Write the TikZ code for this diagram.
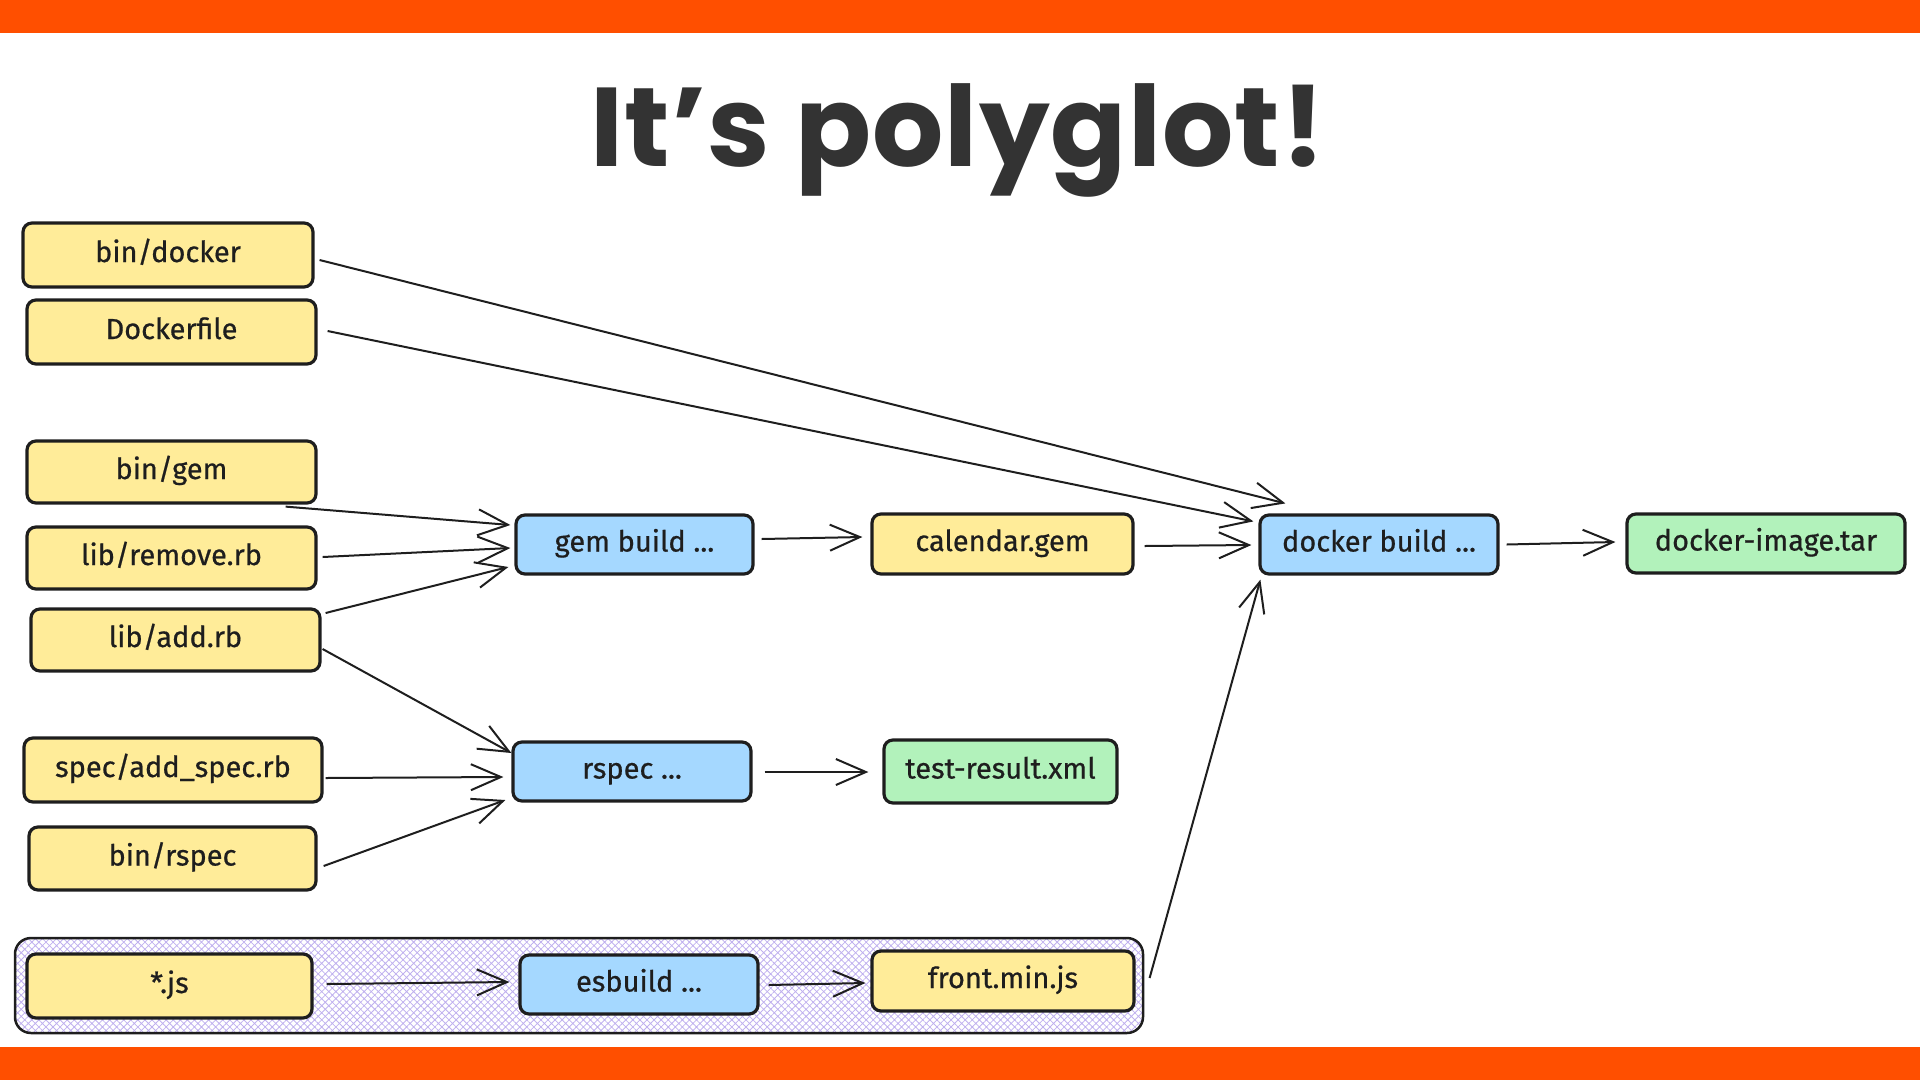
\documentclass[tikz,border=0pt]{standalone}
\usepackage{fontspec}
\setmainfont{Fira Sans}
\newfontfamily\labelfont{Fira Sans}[FakeBold=0.6]
\newfontfamily\titlefont{Poppins}[LetterSpace=1]
\usetikzlibrary{arrows.meta,calc,patterns.meta}
\definecolor{barorange}{HTML}{FF4F00}
\definecolor{ylw}{HTML}{FFEC99}
\definecolor{blu}{HTML}{A5D8FF}
\definecolor{grn}{HTML}{B2F2BB}
\definecolor{hatchc}{HTML}{BFB0EE}
\definecolor{ink}{HTML}{1E1E1E}
\definecolor{titleink}{HTML}{333333}
\tikzset{
  box/.style={draw=ink, line width=3.2pt, rounded corners=9pt, text=ink,
    font=\labelfont\fontsize{29}{32}\selectfont, text height=20pt, text depth=6pt,
    minimum height=62pt, inner sep=0pt},
  ybox/.style={box, fill=ylw},
  bbox/.style={box, fill=blu},
  gbox/.style={box, fill=grn},
  groupbox/.style={draw=ink, line width=2.5pt, rounded corners=16pt,
    pattern={Hatch[angle=45,distance=5pt,line width=0.8pt]}, pattern color=hatchc,
    minimum width=1128pt, minimum height=95pt, inner sep=0pt},
  arr/.style={draw=ink, line width=2pt,
    -{Straight Barb[length=30pt,width=26pt,line width=2pt]}},
  bar/.style={fill=barorange, draw=none, minimum width=1920pt, minimum height=33pt, inner sep=0pt}
}
\begin{document}
\begin{tikzpicture}[x=1pt,y=-1pt]
\useasboundingbox (0,0) rectangle (1920,1080);
\node[bar] (topbar) at (960,16.5) {};
\node[bar] (botbar) at (960,1063.5) {};
\node[anchor=base, text=titleink, inner sep=0pt, font=\titlefont\bfseries\fontsize{112}{120}\selectfont] (title) at (958,166) {It’s polyglot!};

\node[groupbox] (group) at (579,985.5) {};

\node[ybox, minimum width=290pt, minimum height=64pt] (bindocker) at (168,255) {bin/docker};
\node[ybox, minimum width=289pt, minimum height=64pt] (dockerfile) at (171.5,332) {Dockerfile};
\node[ybox, minimum width=289pt] (bingem) at (171.5,472) {bin/gem};
\node[ybox, minimum width=289pt] (libremove) at (171.5,558) {lib/remove.rb};
\node[ybox, minimum width=289pt] (libadd) at (175.5,640) {lib/add.rb};
\node[ybox, minimum width=298pt, minimum height=64pt] (spec) at (173,770) {spec/add\_spec.rb};
\node[ybox, minimum width=287pt, minimum height=63pt] (binrspec) at (172.5,858.5) {bin/rspec};
\node[ybox, minimum width=285pt, minimum height=64pt] (js) at (169.5,986) {*.js};

\node[bbox, minimum width=237pt, minimum height=59pt] (gembuild) at (634.5,544.5) {gem build ...};
\node[ybox, minimum width=261pt, minimum height=60pt] (calendar) at (1002.5,544) {calendar.gem};
\node[bbox, minimum width=238pt, minimum height=59pt] (dockerbuild) at (1379,544.5) {docker build ...};
\node[gbox, minimum width=278pt, minimum height=59pt] (tar) at (1766,543.5) {docker-image.tar};
\node[bbox, minimum width=238pt, minimum height=59pt] (rspec) at (632,771.5) {rspec ...};
\node[gbox, minimum width=233pt, minimum height=63pt] (testresult) at (1000.5,771.5) {test-result.xml};
\node[bbox, minimum width=238pt, minimum height=59pt] (esbuild) at (639,984.5) {esbuild ...};
\node[ybox, minimum width=262pt, minimum height=60pt] (front) at (1003,981) {front.min.js};

\draw[arr] ($(bindocker.east)+(5,5)$) -- ($(dockerbuild.north west)+(27,-10)$);
\draw[arr] ($(dockerfile.east)+(10,-1)$) -- ($(dockerbuild.north west)+(-5,8)$);
\draw[arr] ($(bingem.south east)+(-32,2)$) -- ($(gembuild.west)+(-4,-19.5)$);
\draw[arr] ($(libremove.east)+(5,-1)$) -- ($(gembuild.west)+(-4,3.5)$);
\draw[arr] ($(libadd.east)+(4,-27)$) -- ($(gembuild.west)+(-6,22.5)$);
\draw[arr] ($(libadd.east)+(1,9)$) -- ($(rspec.west)+(0,-18.5)$);
\draw[arr] ($(spec.east)+(2,8)$) -- ($(rspec.west)+(-8,5.5)$);
\draw[arr] ($(binrspec.east)+(6,7.5)$) -- ($(rspec.west)+(-6,28.5)$);
\draw[arr] ($(gembuild.east)+(7,-5.5)$) -- ($(calendar.west)+(-8,-7)$);
\draw[arr] ($(calendar.east)+(10,2)$) -- ($(dockerbuild.west)+(-7,0.5)$);
\draw[arr] ($(dockerbuild.east)+(7,0)$) -- ($(tar.west)+(-10,-1.5)$);
\draw[arr] ($(rspec.east)+(12,0.5)$) -- ($(testresult.west)+(-14,0.5)$);
\draw[arr] ($(js.east)+(13,-2)$) -- ($(esbuild.west)+(-9,-2.5)$);
\draw[arr] ($(esbuild.east)+(9,0.5)$) -- ($(front.west)+(-5,2)$);
\draw[arr] ($(front.east)+(14,-3)$) -- ($(dockerbuild.south west)+(2,4)$);
\end{tikzpicture}
\end{document}
